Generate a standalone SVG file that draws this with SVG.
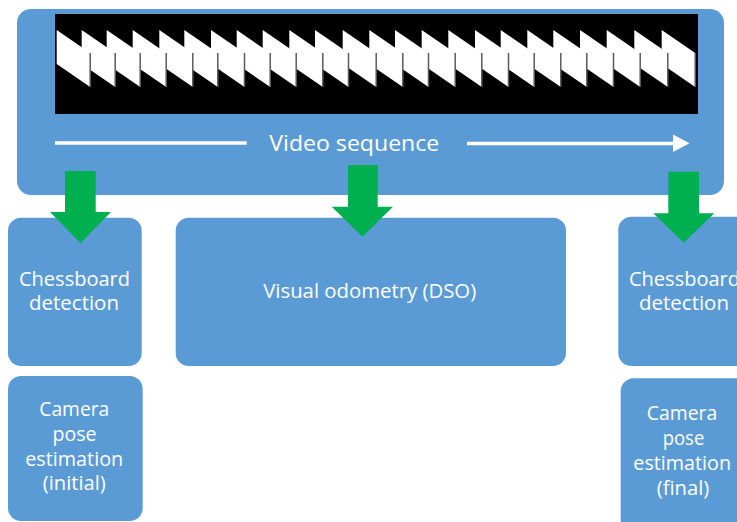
<svg xmlns="http://www.w3.org/2000/svg" xmlns:xlink="http://www.w3.org/1999/xlink" width="737" height="522" viewBox="0 0 737 522">
<style>
.box{fill:#5B9BD5;}
.lbl{font-family:"Open Sans","Liberation Sans",sans-serif;font-size:19.5px;fill:#FFFFFF;text-anchor:middle;}
.arr{fill:#00B050;}
</style>
<defs>
<g id="fr">
<polygon points="0,0 33.5,23 33.5,57 0,34" fill="#FFFFFF"/>
<line x1="33.5" y1="23" x2="33.5" y2="57" stroke="#5a5a5a" stroke-width="1.5"/>
</g>
</defs>
<rect width="737" height="522" fill="#FFFFFF"/>
<g id="video">
<rect class="box" x="17" y="9" width="707" height="186" rx="14"/>
<rect x="55" y="14" width="643" height="100" fill="#000000"/>
<g>
<use xlink:href="#fr" x="661.7" y="30"/>
<use xlink:href="#fr" x="634.3" y="30"/>
<use xlink:href="#fr" x="606.7" y="30"/>
<use xlink:href="#fr" x="580" y="30"/>
<use xlink:href="#fr" x="553.3" y="30"/>
<use xlink:href="#fr" x="527.3" y="30"/>
<use xlink:href="#fr" x="500.7" y="30"/>
<use xlink:href="#fr" x="475" y="30"/>
<use xlink:href="#fr" x="448.3" y="30"/>
<use xlink:href="#fr" x="421.7" y="30"/>
<use xlink:href="#fr" x="395" y="30"/>
<use xlink:href="#fr" x="369.3" y="30"/>
<use xlink:href="#fr" x="342.7" y="30"/>
<use xlink:href="#fr" x="315" y="30"/>
<use xlink:href="#fr" x="289.3" y="30"/>
<use xlink:href="#fr" x="262.7" y="30"/>
<use xlink:href="#fr" x="236.7" y="30"/>
<use xlink:href="#fr" x="211" y="30"/>
<use xlink:href="#fr" x="184.3" y="30"/>
<use xlink:href="#fr" x="159.3" y="30"/>
<use xlink:href="#fr" x="132.7" y="30"/>
<use xlink:href="#fr" x="106.7" y="30"/>
<use xlink:href="#fr" x="81.7" y="30"/>
<use xlink:href="#fr" x="56.7" y="30"/>
</g>
<line x1="55" y1="143" x2="246.7" y2="143" stroke="#FFFFFF" stroke-width="3.5"/>
<line x1="467" y1="143.5" x2="675" y2="143.5" stroke="#FFFFFF" stroke-width="3.5"/>
<polygon points="673,134.5 689.5,143.3 673,152" fill="#FFFFFF"/>
<text class="lbl" x="354.3" y="151" font-size="22" style="font-size:22px" textLength="170" lengthAdjust="spacingAndGlyphs">Video sequence</text>
</g>
<g id="chess-left">
<rect class="box" x="8" y="217.7" width="133.7" height="148.3" rx="13"/>
<text class="lbl" x="74.5" y="286" textLength="111" lengthAdjust="spacingAndGlyphs">Chessboard</text>
<text class="lbl" x="74" y="310" textLength="90" lengthAdjust="spacingAndGlyphs">detection</text>
</g>
<g id="dso">
<rect class="box" x="175.7" y="217.7" width="390.3" height="148.3" rx="13"/>
<text class="lbl" x="369.7" y="297.5" textLength="213" lengthAdjust="spacingAndGlyphs">Visual odometry (DSO)</text>
</g>
<g id="chess-right">
<rect class="box" x="618.3" y="216.7" width="140" height="149.3" rx="13"/>
<text class="lbl" x="684.5" y="286" textLength="111" lengthAdjust="spacingAndGlyphs">Chessboard</text>
<text class="lbl" x="684" y="310" textLength="90" lengthAdjust="spacingAndGlyphs">detection</text>
</g>
<g id="pose-initial">
<rect class="box" x="8" y="376" width="134.7" height="145" rx="13"/>
<text class="lbl" x="74.3" y="416" textLength="70" lengthAdjust="spacingAndGlyphs">Camera</text>
<text class="lbl" x="74.5" y="441" textLength="44" lengthAdjust="spacingAndGlyphs">pose</text>
<text class="lbl" x="74.2" y="466" textLength="98" lengthAdjust="spacingAndGlyphs">estimation</text>
<text class="lbl" x="74.3" y="490" textLength="63" lengthAdjust="spacingAndGlyphs">(initial)</text>
</g>
<g id="pose-final">
<rect class="box" x="620.7" y="378.3" width="140" height="170" rx="13"/>
<text class="lbl" x="682" y="420" textLength="70.6" lengthAdjust="spacingAndGlyphs">Camera</text>
<text class="lbl" x="683.5" y="445" textLength="41.6" lengthAdjust="spacingAndGlyphs">pose</text>
<text class="lbl" x="682.2" y="470" textLength="97.7" lengthAdjust="spacingAndGlyphs">estimation</text>
<text class="lbl" x="683" y="495" textLength="52.6" lengthAdjust="spacingAndGlyphs">(final)</text>
</g>
<g id="connectors">
<polygon class="arr" points="65,171 95.7,171 95.7,212 111,212 80.5,243 50,212 65,212"/>
<polygon class="arr" points="348,165 377.7,165 377.7,206.7 393,206.7 362.5,236.7 331.7,206.7 348,206.7"/>
<polygon class="arr" points="668.3,171.7 699,171.7 699,213.3 714.3,213.3 683.7,242.7 653.3,213.3 668.3,213.3"/>
</g>
</svg>
